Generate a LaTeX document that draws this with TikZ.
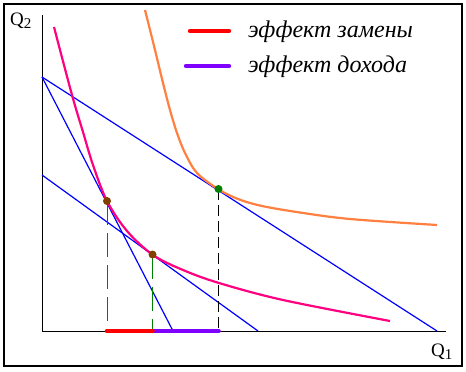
\documentclass[tikz,border=0pt]{standalone}
\usepackage{fontspec}
\setmainfont{Liberation Serif}
\begin{document}
\begin{tikzpicture}[x=1pt,y=-1pt,
  axis/.style={black,line width=1pt},
  budget/.style={blue,line width=1.2pt},
  icurve/.style={line width=2.2pt,smooth,tension=0.55},
  guide/.style={line width=1pt},
  effect/.style={line width=4.6pt,line cap=round},
  pt/.style={circle,inner sep=0pt,minimum size=8pt},
  lbl/.style={inner sep=0pt,anchor=base west},
  legtext/.style={inner sep=0pt,anchor=base west,font=\fontsize{24}{24}\selectfont\itshape}]
\definecolor{ipink}{RGB}{255,0,128}
\definecolor{iorange}{RGB}{255,128,64}
\definecolor{ipurple}{RGB}{128,0,255}
\definecolor{ibrown}{RGB}{128,64,0}
\definecolor{igreen}{RGB}{0,128,0}
\useasboundingbox (0,0) rectangle (466,372);
\fill[white] (0,0) rectangle (466,372);
\draw[line width=1.4pt] (4,4) rectangle (462,366);
% coordinates
\coordinate (O) at (42,331);
\coordinate (ytop) at (42,15);
\coordinate (xend) at (446,331);
\coordinate (A) at (42,77);
\coordinate (C) at (42,175);
\coordinate (Ax) at (437,331);
\coordinate (Bx) at (173,331);
\coordinate (Cx) at (258,331);
\coordinate (P1) at (107,201);
\coordinate (P2) at (152.5,254.5);
\coordinate (P3) at (218.5,189);
\coordinate (F1) at (107,331);
\coordinate (F2) at (152.5,331);
\coordinate (F3) at (218.5,331);
% axes
\draw[axis] (ytop) -- (O) -- (xend);
\node[lbl,font=\fontsize{19}{19}\selectfont] (q2) at (10,25) {Q\raisebox{-3pt}{\fontsize{15}{15}\selectfont 2}};
\node[lbl,font=\fontsize{19}{19}\selectfont] (q1) at (431,356) {Q\raisebox{-3pt}{\fontsize{15}{15}\selectfont 1}};
% budget lines
\draw[budget] (A) -- (Ax);
\draw[budget] (A) -- (Bx);
\draw[budget] (C) -- (Cx);
% indifference curves
\draw[icurve,ipink] plot coordinates {(54,27) (72,95) (83,132) (93,165) (107,201) (127,231) (153,255) (183,270) (219,283) (283,300) (390,321)};
\draw[icurve,iorange] plot coordinates {(145,10) (155,50) (163,83) (170,110) (177,133) (185,153) (197,173) (218,189) (238,199) (262,206) (300,212.5) (350,219) (437,225)};
% guides
\draw[guide,igreen,dash pattern=on 24pt off 8pt] (P1) -- (F1);
\draw[guide,igreen,dash pattern=on 24pt off 8pt] (P2) -- (F2);
\draw[guide,black,dash pattern=on 11pt off 5pt] (P3) -- (F3);
% effects
\draw[effect,ipurple] (F2) -- (F3);
\draw[effect,red] (F1) -- (F2);
% points
\node[pt,fill=ibrown] (d1) at (P1) {};
\node[pt,fill=ibrown] (d2) at (P2) {};
\node[pt,fill=igreen] (d3) at (P3) {};
% legend
\coordinate (l1a) at (190,31);
\coordinate (l1b) at (229,31);
\coordinate (l2a) at (186,66);
\coordinate (l2b) at (229,66);
\draw[line width=4.4pt,line cap=round,red] (l1a) -- (l1b);
\draw[line width=4.4pt,line cap=round,ipurple] (l2a) -- (l2b);
\node[legtext] (t1) at (248,37) {эффект замены};
\node[legtext] (t2) at (248,72) {эффект дохода};
\end{tikzpicture}
\end{document}
